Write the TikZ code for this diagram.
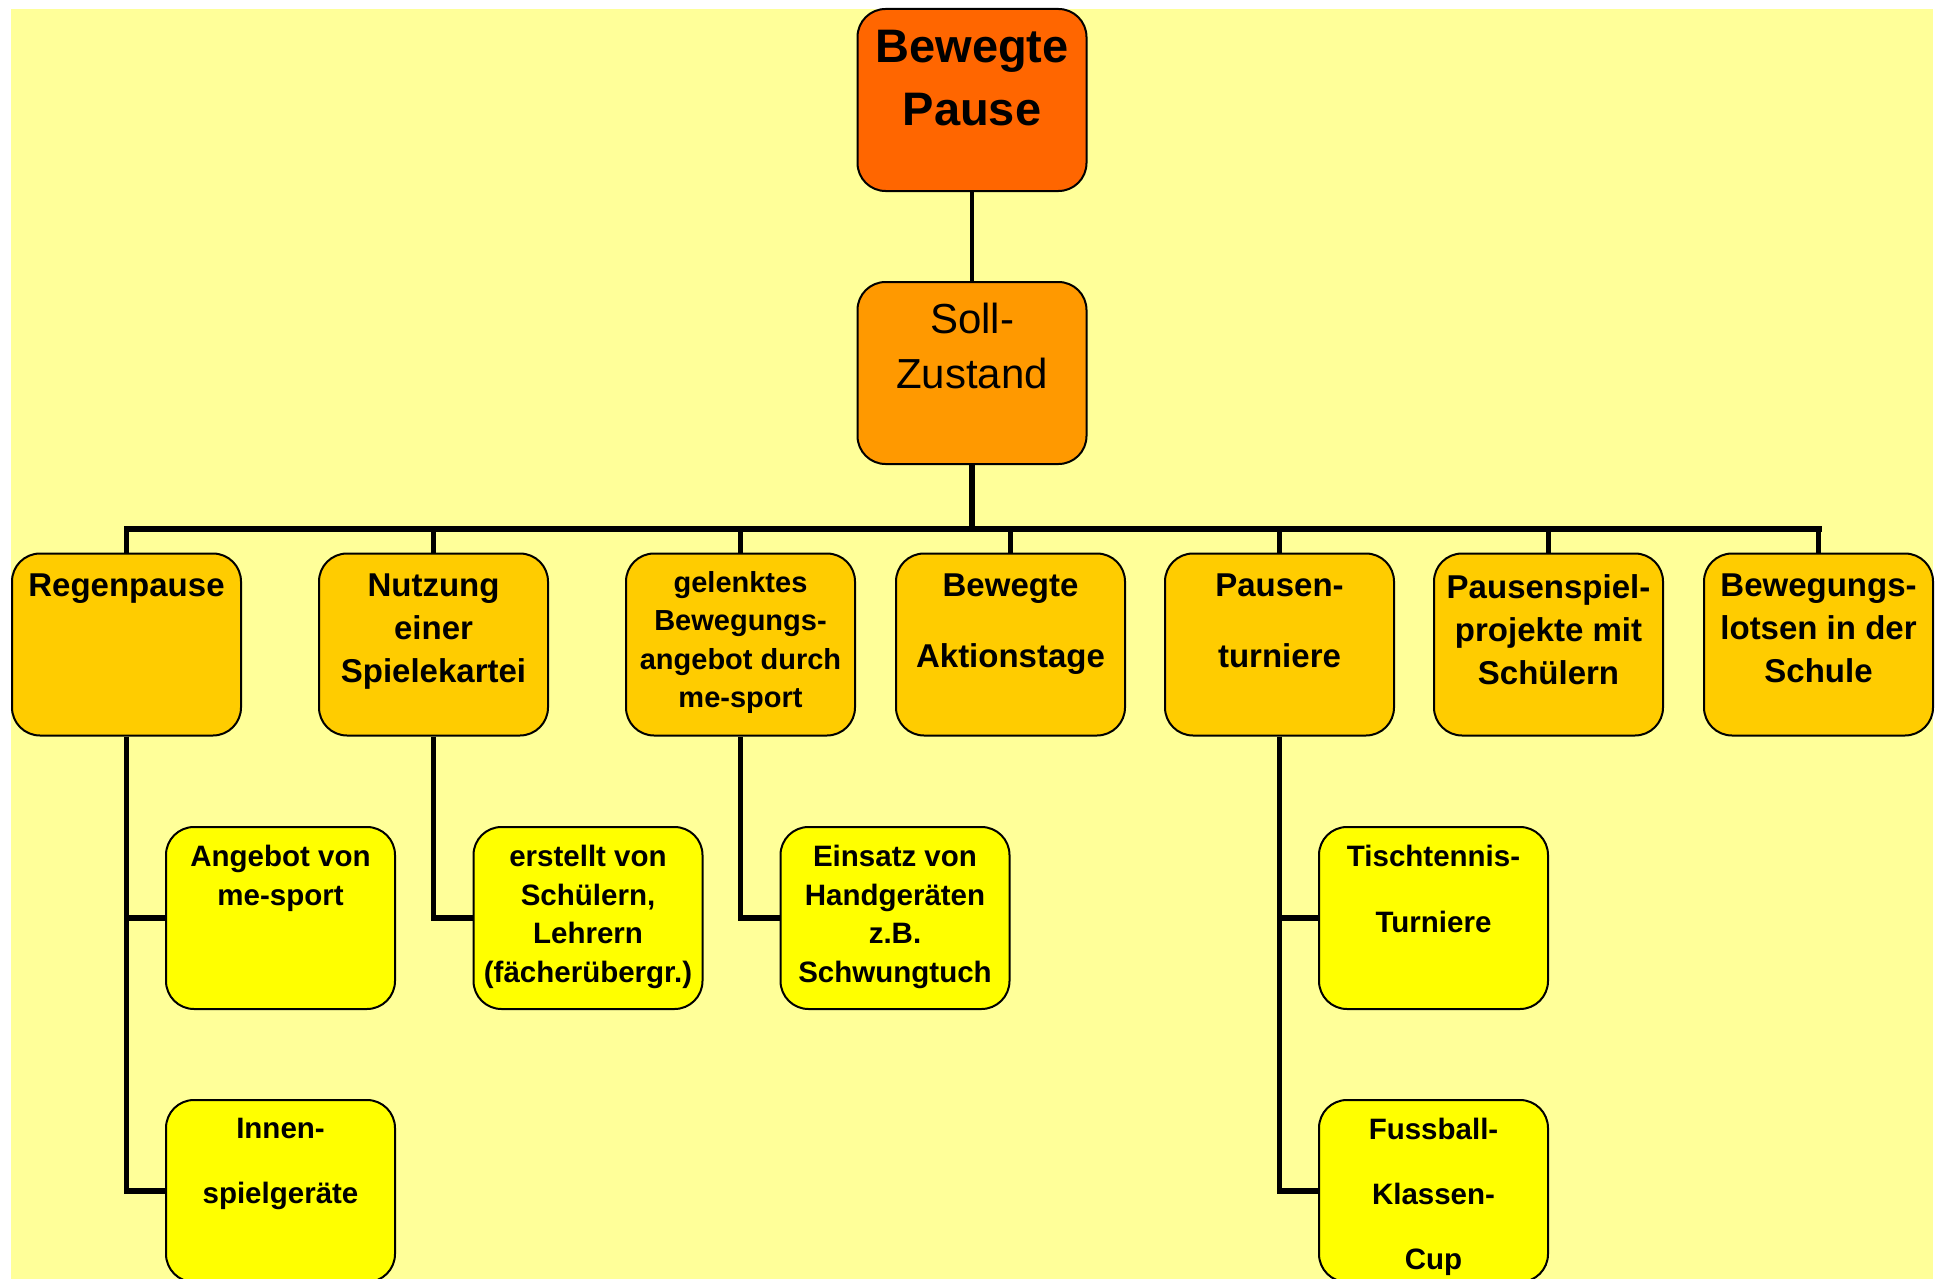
\documentclass[tikz,border=0pt]{standalone}
\usepackage{fontspec}
\setmainfont{Liberation Sans}
\definecolor{bgc}{HTML}{FFFF99}
\definecolor{topc}{HTML}{FF6600}
\definecolor{sollc}{HTML}{FF9900}
\definecolor{midc}{HTML}{FFCC00}
\definecolor{lowc}{HTML}{FFFF00}
\begin{document}
\begin{tikzpicture}[x=1pt,y=-1pt,
  box/.style={draw=black, line width=2pt, rounded corners=28pt, minimum width=229pt, minimum height=182pt, inner sep=0pt},
  topbox/.style={box, fill=topc},
  sollbox/.style={box, fill=sollc},
  midbox/.style={box, fill=midc},
  lowbox/.style={box, fill=lowc},
  txt/.style={anchor=north, align=center, inner sep=0pt},
  ttop/.style={txt, font=\fontsize{47}{63}\selectfont\bfseries},
  tsoll/.style={txt, font=\fontsize{42}{55}\selectfont},
  tmid/.style={txt, font=\fontsize{33}{43}\selectfont\bfseries},
  tmids/.style={txt, font=\fontsize{29}{38.5}\selectfont\bfseries},
  tlow/.style={txt, font=\fontsize{29.5}{38.5}\selectfont\bfseries},
  conn/.style={draw=black, line width=5.5pt},
  bus/.style={draw=black, line width=6pt, line cap=rect}
]
\useasboundingbox (0,0) rectangle (1941,1279);
\fill[bgc] (11,9) rectangle (1933,1279);

% boxes
\node[topbox] (root) at (972,100) {};
\node[sollbox] (soll) at (972,373) {};

\node[midbox] (regen) at (126.5,644.5) {};
\node[midbox] (nutz) at (433.5,644.5) {};
\node[midbox] (gel) at (740.5,644.5) {};
\node[midbox] (akt) at (1010.5,644.5) {};
\node[midbox] (turn) at (1279.5,644.5) {};
\node[midbox] (proj) at (1548.5,644.5) {};
\node[midbox] (lots) at (1818.5,644.5) {};

\node[lowbox] (ang) at (280.5,918) {};
\node[lowbox] (innen) at (280.5,1191) {};
\node[lowbox] (erst) at (588,918) {};
\node[lowbox] (eins) at (895,918) {};
\node[lowbox] (tisch) at (1433.5,918) {};
\node[lowbox] (fuss) at (1433.5,1191) {};

% texts
\node[ttop] (tRoot) at (972,30) {Bewegte\\Pause};
\node[tsoll] (tSoll) at (972,303) {Soll-\\Zustand};

\node[tmid] (tRegen) at (126.5,574) {Regenpause};
\node[tmid] (tNutz) at (433.5,574) {Nutzung\\einer\\Spielekartei};
\node[tmids] (tGel) at (740.5,571) {gelenktes\\Bewegungs-\\angebot durch\\me-sport};
\node[tmid] (tAkt) at (1010.5,574) {Bewegte\\[27.5pt]Aktionstage};
\node[tmid] (tTurn) at (1279.5,574) {Pausen-\\[27.5pt]turniere};
\node[tmid] (tProj) at (1548.5,574) {Pausenspiel-\\projekte mit\\Schülern};
\node[tmid] (tLots) at (1818.5,574) {Bewegungs-\\lotsen in der\\Schule};

\node[tlow] (tAng) at (280.5,845) {Angebot von\\me-sport};
\node[tlow] (tInnen) at (280.5,1118) {Innen-\\[26.5pt]spielgeräte};
\node[tlow] (tErst) at (588,845) {erstellt von\\Schülern,\\Lehrern\\(fächerübergr.)};
\node[tlow] (tEins) at (895,845) {Einsatz von\\Handgeräten\\z.B.\\Schwungtuch};
\node[tlow] (tTisch) at (1433.5,845) {Tischtennis-\\[27.5pt]Turniere};
\node[tlow] (tFuss) at (1433.5,1118) {Fussball-\\[26.5pt]Klassen-\\[26.5pt]Cup};

% connectors
\coordinate (busL) at (126.5,529);
\coordinate (busR) at (1818.5,529);
\draw[draw=black, line width=4.5pt] (root) -- (soll);
\draw[conn] (soll) -- (soll |- busL);
\draw[bus] (busL) -- (busR);
\foreach \n in {regen,nutz,gel,akt,turn,proj,lots}
  \draw[conn, line width=5pt] (\n) -- (\n |- busL);

\draw[conn] (regen.south) |- (ang.west);
\draw[conn] (regen.south) |- (innen.west);
\draw[conn] (nutz.south) |- (erst.west);
\draw[conn] (gel.south) |- (eins.west);
\draw[conn] (turn.south) |- (tisch.west);
\draw[conn] (turn.south) |- (fuss.west);
\end{tikzpicture}
\end{document}
